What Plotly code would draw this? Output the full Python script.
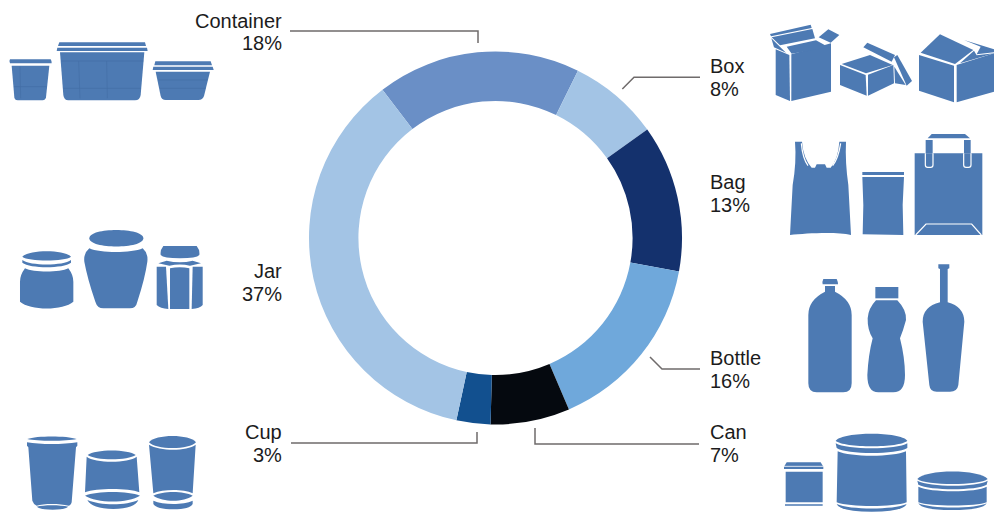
import re
import plotly.graph_objects as go

W, H = 994, 514

# Packaging share by format, clockwise from the top-left of the ring
categories = ["Container", "Box", "Bag", "Bottle", "Can", "Cup", "Jar"]
shares = [18, 8, 13, 16, 7, 3, 37]
ring_colors = ["#6a8fc6", "#a3c4e5", "#14316d", "#6fa8db", "#05090f", "#12508f", "#a3c4e5"]

ICON = "#4d7ab3"
LEADER = "#6f6b6b"


def px_x(x):
    return x / W


def px_y(y):
    return 1 - y / H


def glyph(ox, oy, d, fill=ICON, stroke=None, width=0):
    """Shape from a path sketched at 3x scale and anchored at (ox, oy) in page pixels."""
    out, is_x = [], True
    for tok in re.findall(r"[MLQCZ]|-?\d+\.?\d*", d):
        if tok.isalpha():
            out.append(tok)
        else:
            v = float(tok) / 3
            out.append(f"{px_x(ox + v):.5f}" if is_x else f"{px_y(oy + v):.5f}")
            is_x = not is_x
    return dict(
        type="path", xref="paper", yref="paper", path=" ".join(out),
        fillcolor=fill if fill else "rgba(0,0,0,0)",
        line=dict(color=stroke if stroke else "rgba(0,0,0,0)", width=width),
        layer="above",
    )


def filled(ox, oy, paths):
    return [glyph(ox, oy, p) for p in paths]


def white(ox, oy, paths, width=1.2):
    return [glyph(ox, oy, p, fill=None, stroke="#ffffff", width=width) for p in paths]


def seam(ox, oy, paths):
    return [glyph(ox, oy, p, fill=None, stroke="#436fa6", width=0.7) for p in paths]


shapes = []

# Containers
shapes += filled(0, 20, [
    "M30 118 L152 118 Q156 124 155 130 L30 130 Q26 124 30 118 Z",
    "M35 137 L148 137 L138 232 Q136 241 128 241 L53 241 Q44 241 43 232 Z",
    "M178 67 L435 67 L438 78 L174 78 Z",
    "M172 83 L441 83 L443 93 L170 93 Z",
    "M180 97 L433 97 L422 225 Q420 241 405 241 L205 241 Q192 241 190 225 Z",
    "M466 124 L632 124 L636 136 L463 136 Z",
    "M460 140 L638 140 L641 150 L458 150 Z",
    "M467 155 L630 155 L612 228 Q608 240 595 240 L497 240 Q485 240 482 228 Z",
])
shapes += seam(0, 20, [
    "M183 123 L430 123", "M236 123 L240 235", "M320 123 L322 235", "M190 205 L422 205",
    "M475 180 L622 180", "M480 205 L616 205", "M60 140 L62 235", "M42 200 L140 200",
])

# Jars
shapes += filled(0, 220, [
    "M67 110 C85 88 195 88 213 110 C195 125 85 125 67 110 Z",
    "M67 120 C90 138 190 138 213 120 L213 128 C190 146 90 146 67 128 Z",
    "M75 145 C100 158 180 158 205 145 Q220 165 220 185 L220 245 C190 272 90 272 60 245 L60 185 Q60 165 75 145 Z",
    "M268 55 C268 22 430 22 430 55 C430 88 268 88 268 55 Z",
    "M268 85 C300 100 395 100 428 85 Q445 100 442 125 Q435 175 412 245 Q408 265 390 265 L310 265 Q292 265 286 245 Q262 175 253 125 Q250 100 268 85 Z",
    "M490 78 L590 78 Q600 90 598 105 Q590 115 540 115 Q490 115 482 105 Q480 90 490 78 Z",
    "M475 130 L500 122 Q540 132 578 122 L603 130 L570 137 Q540 130 508 137 Z",
    "M470 140 L498 140 L505 267 Q480 265 470 255 Z",
    "M510 145 Q540 138 568 145 L568 267 L510 267 Z",
    "M578 140 L608 140 L608 255 Q600 265 575 267 Z",
])

# Cups
shapes += filled(0, 424, [
    "M82 45 C110 35 200 35 230 45 C200 52 110 52 82 45 Z",
    "M81 55 C120 62 190 62 232 55 L232 65 L228 70 L215 235 Q212 245 205 245 C180 238 130 238 110 245 Q100 240 97 230 L85 70 L81 65 Z",
    "M110 248 C130 242 180 242 205 248 Q195 257 158 257 Q120 257 110 248 Z",
    "M263 93 C285 75 385 75 407 93 C385 110 285 110 263 93 Z",
    "M260 98 C285 118 385 118 410 98 L418 205 C385 192 290 192 255 205 Z",
    "M255 215 C290 200 385 200 420 215 C385 238 290 238 255 215 Z",
    "M262 228 C300 245 380 245 415 228 Q405 253 340 255 Q275 253 262 228 Z",
    "M447 55 C465 30 570 30 588 55 C570 78 465 78 447 55 Z",
    "M447 62 C480 82 560 82 587 62 L578 208 C550 195 490 195 460 208 Z",
    "M460 215 C490 200 550 200 578 215 C550 235 490 235 460 215 Z",
    "M460 230 C490 243 550 243 578 230 L578 240 Q570 256 520 256 Q470 256 460 240 Z",
])

# Boxes
shapes += filled(760, 20, [
    "M47 88 L88 105 L90 243 L47 225 Z",
    "M94 103 L213 70 L213 215 L94 243 Z",
    "M30 42 L152 14 L155 24 L33 49 Z",
    "M35 52 L157 27 L165 55 L60 76 Z",
    "M34 55 L52 73 L78 98 L42 82 Z",
    "M80 80 L168 61 L206 82 L95 101 Z",
    "M176 52 L205 28 L238 45 L212 68 Z",
    "M245 132 L330 105 L398 135 L318 160 Z",
    "M240 135 L317 165 L320 227 L240 195 Z",
    "M324 164 L400 135 L402 190 L324 227 Z",
    "M310 82 L322 68 L405 105 L395 125 Z",
    "M402 112 L412 105 L456 183 L440 197 Z",
    "M403 140 L437 195 L405 190 Z",
    "M482 98 L540 43 L640 90 L585 132 Z",
    "M477 105 L582 137 L582 247 L477 212 Z",
    "M590 135 L702 100 L702 215 L590 247 Z",
    "M612 60 L702 88 L702 97 L650 103 L662 80 Z",
    "M642 92 L650 106 L702 100 L600 130 Z",
])

# Bags
shapes += filled(780, 125, [
    "M45 50 L66 50 Q70 100 95 128 L105 128 L110 118 L135 118 L140 128 L152 128 Q175 100 178 50 L198 50 Q195 110 205 180 L213 330 C170 320 80 325 30 330 L38 180 Q50 110 45 50 Z",
    "M247 141 L372 141 L372 150 L247 150 Z",
    "M247 156 L372 156 L368 240 L370 330 L248 328 L250 240 Z",
    "M404 85 L607 85 L607 330 L404 330 Z",
    "M455 27 L555 27 L570 40 L443 40 Z",
    "M437 45 L458 45 L458 85 L437 85 Z",
    "M552 45 L572 45 L572 85 L552 85 Z",
])
shapes += white(780, 125, [
    "M64 55 Q68 100 84 122",
    "M182 55 Q175 100 158 122",
    "M407 330 L438 297 L575 297 L604 330",
    "M436 85 L436 120 Q436 127 443 127 L452 127 Q459 127 459 120 L459 85",
    "M551 85 L551 120 Q551 127 558 127 L566 127 Q573 127 573 120 L573 85",
])

# Bottles
shapes += filled(790, 255, [
    "M100 72 L140 72 Q144 80 144 88 L98 88 Q96 80 100 72 Z",
    "M105 93 L135 93 L135 110 Q185 135 185 180 L185 385 Q185 412 160 412 L80 412 Q55 412 55 385 L55 180 Q55 135 105 110 Z",
    "M256 96 L325 96 L325 130 L256 130 Z",
    "M258 136 L322 136 Q350 165 348 195 Q340 225 330 250 Q345 310 345 360 Q345 412 310 412 L265 412 Q232 412 232 360 Q235 300 248 250 Q232 225 233 190 Q235 160 258 136 Z",
    "M445 28 L478 28 L478 40 L473 42 L473 142 Q522 155 523 200 L505 390 Q502 410 480 410 L440 410 Q420 410 418 390 L398 200 Q398 155 450 142 L450 42 L445 40 Z",
])

# Cans
shapes += filled(770, 424, [
    "M50 115 L152 115 L160 128 L160 135 L42 135 L42 128 Z",
    "M47 143 L158 143 L158 235 L47 235 Z",
    "M45 241 L158 241 L158 245 L45 245 Z",
    "M197 50 C220 22 390 22 412 50 C390 72 220 72 197 50 Z",
    "M197 58 C230 78 380 78 412 58 L412 72 C380 92 230 92 200 72 Z",
    "M203 82 C240 100 370 100 408 82 L410 235 C370 250 240 250 200 235 Z",
    "M200 240 C240 258 370 258 410 240 Q400 263 305 263 Q210 263 200 240 Z",
    "M442 165 C465 135 630 135 653 165 C630 185 465 185 442 165 Z",
    "M442 170 C480 190 620 190 653 170 L650 182 C620 200 480 200 445 182 Z",
    "M445 188 C480 206 620 206 650 188 L650 235 C620 248 480 248 445 235 Z",
    "M445 238 C480 255 620 255 650 238 Q640 258 545 258 Q455 258 445 238 Z",
])
shapes += white(770, 424, ["M42 127 L160 127"], width=0.8)

# Leader lines from the ring to each caption
leaders = [
    "M870 93 L1434 93 L1434 129",
    "M1867 267 L1902 232 L2100 232",
    "M1950 1071 L1986 1107 L2100 1107",
    "M1605 1284 L1605 1332 L2097 1332",
    "M873 1329 L1431 1329 L1431 1296",
]
for p in leaders:
    shapes.append(glyph(0, 0, p, fill=None, stroke=LEADER, width=1.5))

# Caption rows: name, value, anchor edge, pixel x, pixel y of the two rows
caption_place = {
    "Container": ("right", 282, 21, 43),
    "Box": ("left", 710, 66, 89),
    "Bag": ("left", 710, 182, 205),
    "Bottle": ("left", 710, 358, 381),
    "Can": ("left", 710, 432, 455),
    "Cup": ("right", 282, 432, 455),
    "Jar": ("right", 282, 271, 294),
}

annotations = []
for name, value in zip(categories, shares):
    anchor, x, y1, y2 = caption_place[name]
    for text, y in ((name, y1), (f"{value}%", y2)):
        annotations.append(dict(
            text=text, x=px_x(x), y=px_y(y), xref="paper", yref="paper",
            xanchor=anchor, yanchor="middle", showarrow=False,
            borderpad=0, borderwidth=0,
            font=dict(family="Liberation Sans, Arial, sans-serif", size=20, color="#1c1c1c"),
        ))

fig = go.Figure(go.Pie(
    labels=categories,
    values=shares,
    sort=False,
    direction="clockwise",
    rotation=-37.3,
    hole=0.735,
    textinfo="none",
    hoverinfo="label+percent",
    marker=dict(colors=ring_colors, line=dict(width=0)),
    domain=dict(x=[px_x(309), px_x(682)], y=[px_y(424.5), px_y(51.5)]),
))

fig.update_layout(
    width=W, height=H,
    margin=dict(l=0, r=0, t=0, b=0),
    paper_bgcolor="#ffffff",
    showlegend=False,
    shapes=shapes,
    annotations=annotations,
)

fig.write_html("out.html", config=dict(displayModeBar=False))
